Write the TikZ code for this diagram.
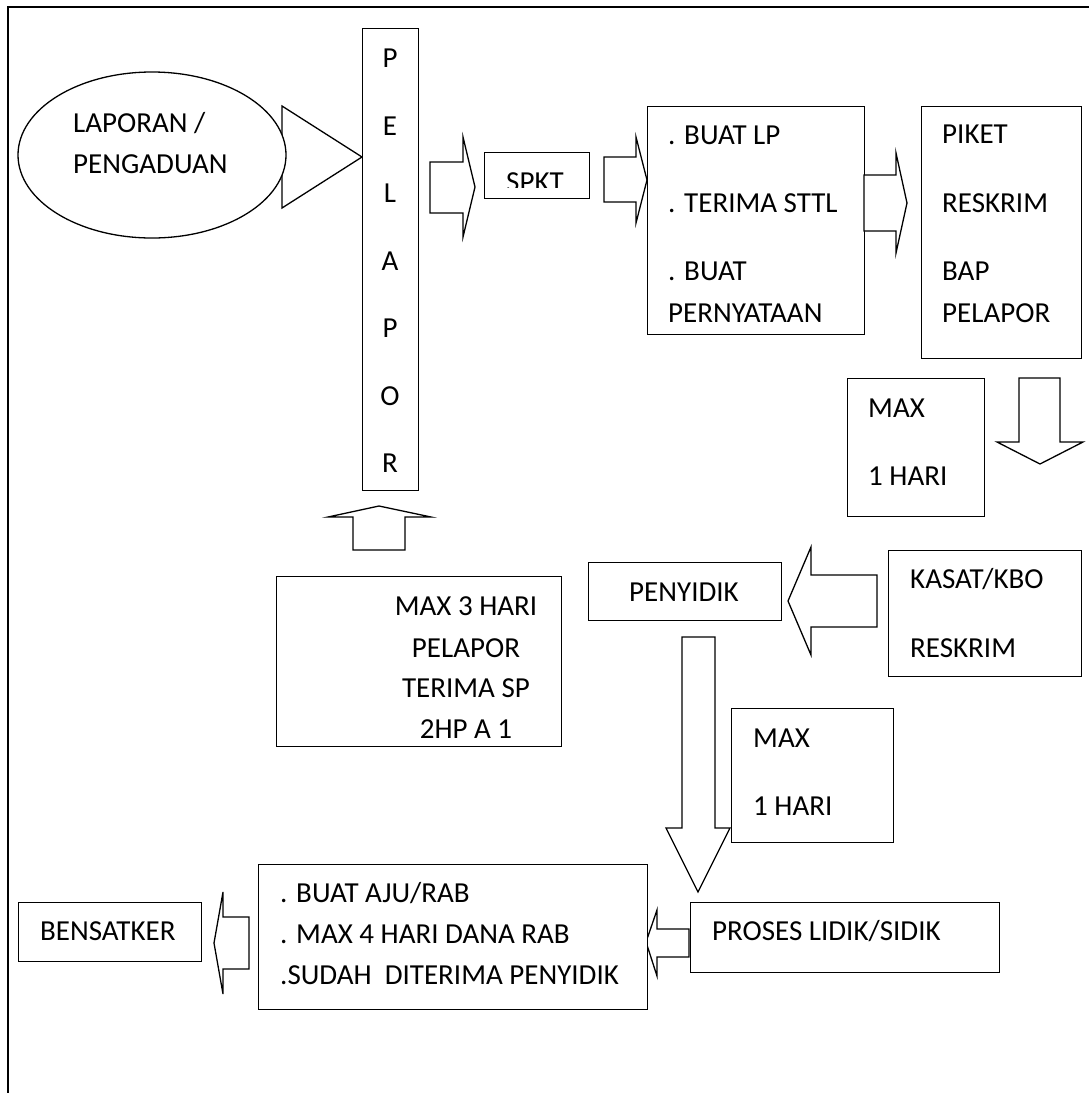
\documentclass[tikz,border=0pt]{standalone}
\usepackage{fontspec}
\setmainfont{Carlito}
\usetikzlibrary{shapes.geometric}
\tikzset{
  boxnode/.style={draw, line width=1.3pt, fill=white, rectangle, inner sep=0, anchor=north west},
  blockarrow/.style={draw, line width=1.3pt, fill=white, line join=miter},
  txt/.style={inner sep=0, anchor=base west},
  ctxt/.style={inner sep=0, anchor=base},
  framestyle/.style={line width=2pt}
}
\begin{document}
\begin{tikzpicture}[x=1pt,y=-1pt,font=\fontsize{29}{35}\selectfont]
\useasboundingbox (0,0) rectangle (1089,1093);
% frame
\draw[framestyle] (1089,7) -- (8,7) -- (8,1093);

% triangle arrow behind ellipse
\draw[blockarrow] (282,106) -- (362,157) -- (282,208) -- cycle;
\node[draw, line width=1.3pt, fill=white, ellipse, minimum width=268pt, minimum height=166pt, inner sep=0] (lap) at (152,155) {};
\node[txt] (lap1) at (73,132) {LAPORAN /};
\node[txt] (lap2) at (73,173) {PENGADUAN};

% PELAPOR vertical box
\node[boxnode, minimum width=56pt, minimum height=462pt] (pel) at (362,28) {};
\foreach \ch/\yy [count=\i] in {P/67,E/135,L/202,A/270,P/337,O/405,R/472}
  \node[ctxt] (pel\i) at (390,\yy) {\ch};

% arrow PELAPOR -> SPKT
\draw[blockarrow] (430,162) -- (463,162) -- (463,137) -- (475,187) -- (463,237) -- (463,213) -- (430,213) -- cycle;

% SPKT
\node[boxnode, minimum width=105pt, minimum height=46pt] (spkt) at (484,152) {};
\begin{scope}
\clip (484,152) rectangle (589,187);
\node[txt] (spktt) at (506,191) {SPKT};
\end{scope}

% arrow SPKT -> BUAT
\draw[blockarrow] (604,157) -- (636,157) -- (636,137) -- (647,180) -- (636,223) -- (636,202) -- (604,202) -- cycle;

% BUAT box
\node[boxnode, minimum width=217pt, minimum height=228pt] (buat) at (647,106) {};
\node[txt] (b1) at (668,144) {. BUAT LP};
\node[txt] (b2) at (668,212) {. TERIMA STTL};
\node[txt] (b3) at (668,280) {. BUAT};
\node[txt] (b4) at (668,322) {PERNYATAAN};

% arrow BUAT -> PIKET
\draw[blockarrow] (864,175) -- (896,175) -- (896,153) -- (907,203) -- (896,253) -- (896,231) -- (864,231) -- cycle;

% PIKET box
\node[boxnode, minimum width=160pt, minimum height=252pt] (piket) at (921,106) {};
\node[txt] (p1) at (942,143) {PIKET};
\node[txt] (p2) at (942,212) {RESKRIM};
\node[txt] (p3) at (942,280) {BAP};
\node[txt] (p4) at (942,322) {PELAPOR};

% MAX 1 HARI (top)
\node[boxnode, minimum width=137pt, minimum height=138pt] (max1) at (847,378) {};
\node[txt] (m11) at (868,417) {MAX};
\node[txt] (m12) at (868,485) {1 HARI};

% down arrow right
\draw[blockarrow] (1019,378) -- (1060,378) -- (1060,442) -- (1083,442) -- (1040,464) -- (997,442) -- (1019,442) -- cycle;

% up arrow to PELAPOR
\draw[blockarrow] (353,550) -- (353,517) -- (328,517) -- (379,506) -- (431,517) -- (405,517) -- (405,550) -- cycle;

% MAX 3 HARI box
\node[boxnode, minimum width=285pt, minimum height=170pt] (max3) at (276,576) {};
\node[ctxt] (m31) at (466,615) {MAX 3 HARI};
\node[ctxt] (m32) at (466,657) {PELAPOR};
\node[ctxt] (m33) at (466,697) {TERIMA SP};
\node[ctxt] (m34) at (466,738) {2HP A 1};

% PENYIDIK
\node[boxnode, minimum width=193pt, minimum height=58pt] (peny) at (588,562) {};
\node[ctxt] (penyt) at (684,601) {PENYIDIK};

% arrow KASAT -> PENYIDIK
\draw[blockarrow] (877,575) -- (811,575) -- (811,547) -- (788,601) -- (811,655) -- (811,627) -- (877,627) -- cycle;

% KASAT box
\node[boxnode, minimum width=193pt, minimum height=126pt] (kasat) at (888,550) {};
\node[txt] (k1) at (910,588) {KASAT/KBO};
\node[txt] (k2) at (910,657) {RESKRIM};

% long down arrow
\draw[blockarrow] (682,637) -- (715,637) -- (715,828) -- (730,828) -- (698,892) -- (666,828) -- (682,828) -- cycle;

% MAX 1 HARI (second)
\node[boxnode, minimum width=162pt, minimum height=134pt] (max2) at (731,708) {};
\node[txt] (m21) at (753,747) {MAX};
\node[txt] (m22) at (753,815) {1 HARI};

% PROSES box
\node[boxnode, minimum width=309pt, minimum height=70pt] (proses) at (690,902) {};
\node[txt] (prt) at (712,940) {PROSES LIDIK/SIDIK};

% arrow PROSES -> AJU
\draw[blockarrow] (689,929) -- (657,929) -- (657,910) -- (646,942) -- (657,976) -- (657,957) -- (689,957) -- cycle;

% AJU box
\node[boxnode, minimum width=389pt, minimum height=145pt] (aju) at (258,864) {};
\node[txt] (a1) at (280,902) {. BUAT AJU/RAB};
\node[txt] (a2) at (280,943) {. MAX 4 HARI DANA RAB};
\node[txt] (a3) at (280,984) {.SUDAH\ \ DITERIMA PENYIDIK};

% arrow AJU -> BENSATKER
\draw[blockarrow] (249,917) -- (223,917) -- (223,892) -- (214,943) -- (223,994) -- (223,969) -- (249,969) -- cycle;

% BENSATKER
\node[boxnode, minimum width=183pt, minimum height=59pt] (bens) at (18,902) {};
\node[txt] (benst) at (40,940) {BENSATKER};
\end{tikzpicture}
\end{document}
